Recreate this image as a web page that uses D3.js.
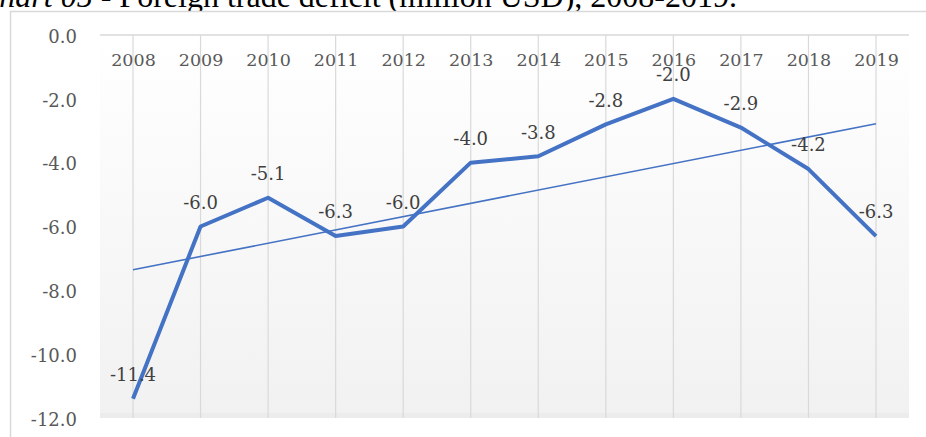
<!DOCTYPE html>
<html>
<head>
<meta charset="utf-8">
<script src="https://cdn.jsdelivr.net/npm/d3@7"></script>
<style>
  html, body { margin: 0; padding: 0; background: #ffffff; overflow: hidden; }
  svg { display: block; }
</style>
</head>
<body>
<svg id="chart" width="926" height="437"></svg>
<script>
// Foreign trade deficit, million USD
const years = ["2008", "2009", "2010", "2011", "2012", "2013", "2014", "2015", "2016", "2017", "2018", "2019"];
const deficit = [-11.4, -6.0, -5.1, -6.3, -6.0, -4.0, -3.8, -2.8, -2.0, -2.9, -4.2, -6.3];
const yTicks = [0, -2, -4, -6, -8, -10, -12];
const titleItalic = "Chart 05";
const titleRest = " - Foreign trade deficit (million USD), 2008-2019.";

const svg = d3.select("#chart");
const plot = { left: 100, right: 909, top: 35, bottom: 418 };

const x = d3.scalePoint().domain(years).range([133, 876]);
const y = d3.scaleLinear().domain([0, -12]).range([plot.top, plot.bottom]);

// one decimal, plain hyphen for negatives
const fmt = v => v.toFixed(1);

// title, partly above the visible page
const title = svg.append("text")
  .attr("x", -22).attr("y", 7)
  .attr("font-family", "'Liberation Serif', 'Times New Roman', serif")
  .attr("font-size", 32).attr("fill", "#000");
title.append("tspan").attr("font-style", "italic").text(titleItalic);
title.append("tspan").text(titleRest);

// chart frame
svg.append("rect")
  .attr("x", 10.5).attr("y", 11.5).attr("width", 930).attr("height", 440)
  .attr("fill", "#ffffff").attr("stroke", "#d9d9d9").attr("stroke-width", 1.5);

// plot area gradient fill
const defs = svg.append("defs");
const grad = defs.append("linearGradient").attr("id", "plotFill")
  .attr("x1", 0).attr("y1", 0).attr("x2", 0).attr("y2", 1);
grad.append("stop").attr("offset", "0%").attr("stop-color", "#ffffff");
grad.append("stop").attr("offset", "100%").attr("stop-color", "#f1f1f1");

svg.append("rect")
  .attr("x", plot.left).attr("y", plot.top)
  .attr("width", plot.right - plot.left).attr("height", plot.bottom - plot.top)
  .attr("fill", "url(#plotFill)");
svg.append("rect")
  .attr("x", plot.left).attr("y", plot.bottom - 5)
  .attr("width", plot.right - plot.left).attr("height", 5)
  .attr("fill", "#ececec");

// vertical gridlines at each category
svg.append("g")
  .selectAll("line").data(years).join("line")
  .attr("x1", d => x(d)).attr("x2", d => x(d))
  .attr("y1", plot.top).attr("y2", plot.bottom)
  .attr("stroke", "#d9d9d9").attr("stroke-width", 1.2);

// category axis along the zero line
const xAxis = svg.append("g")
  .attr("transform", `translate(0,${y(0)})`)
  .call(d3.axisBottom(x).tickSize(0).tickPadding(25));
xAxis.select(".domain").remove();
xAxis.append("line")
  .attr("x1", plot.left).attr("x2", plot.right)
  .attr("stroke", "#d9d9d9").attr("stroke-width", 1.5);
xAxis.selectAll("text")
  .attr("font-family", "'DejaVu Serif', serif").attr("font-size", 17.5)
  .attr("fill", "#595959").attr("dy", "0.35em").attr("y", 25);

// value axis
const yAxis = svg.append("g")
  .attr("transform", "translate(77,0)")
  .call(d3.axisLeft(y).tickValues(yTicks).tickSize(0).tickPadding(0).tickFormat(fmt));
yAxis.select(".domain").remove();
yAxis.selectAll("text")
  .attr("font-family", "'DejaVu Serif', serif").attr("font-size", 18)
  .attr("fill", "#595959").attr("dy", "0.4em");

// series line
const line = d3.line().x((d, i) => x(years[i])).y(d => y(d));
svg.append("path")
  .datum(deficit)
  .attr("d", line)
  .attr("fill", "none").attr("stroke", "#4472c4")
  .attr("stroke-width", 4).attr("stroke-linejoin", "round");

// linear trendline (least squares over the series)
const n = deficit.length;
const mx = d3.mean(deficit, (d, i) => i);
const my = d3.mean(deficit);
const slope = d3.sum(deficit, (d, i) => (i - mx) * (d - my)) / d3.sum(deficit, (d, i) => (i - mx) * (i - mx));
const icept = my - slope * mx;
svg.append("line")
  .attr("x1", x(years[0])).attr("y1", y(icept))
  .attr("x2", x(years[n - 1])).attr("y2", y(icept + slope * (n - 1)))
  .attr("stroke", "#4472c4").attr("stroke-width", 1.6);

// data labels
svg.append("g")
  .selectAll("text").data(deficit).join("text")
  .attr("x", (d, i) => x(years[i]))
  .attr("y", d => y(d) - 24)
  .attr("dy", "0.35em")
  .attr("text-anchor", "middle")
  .attr("font-family", "'DejaVu Serif', serif").attr("font-size", 18)
  .attr("fill", "#404040")
  .text(fmt);
</script>
</body>
</html>
